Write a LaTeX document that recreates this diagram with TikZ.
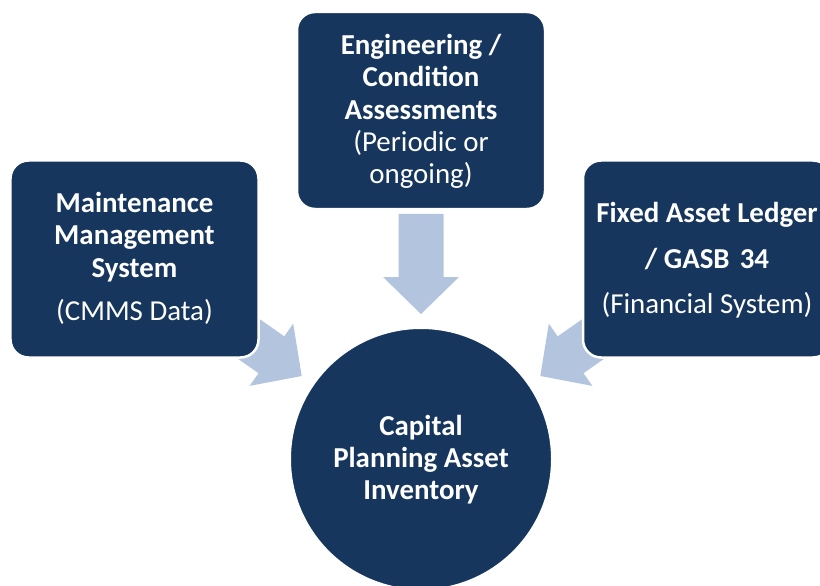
\documentclass[tikz,border=0pt]{standalone}
\usepackage{fontspec}
\setmainfont{Carlito}
\definecolor{navy}{RGB}{23,54,93}
\definecolor{lightarrow}{RGB}{179,196,222}
\tikzset{
  srcbox/.style={draw=white, line width=2.5bp, fill=navy, rounded corners=18bp,
    minimum width=248bp, minimum height=197bp, inner sep=0pt},
  hub/.style={circle, draw=white, line width=2bp, fill=navy, minimum size=262bp, inner sep=0pt},
  bline/.style={text=white, font=\fontsize{29}{32}\selectfont\bfseries, anchor=base, inner sep=0pt},
  nline/.style={text=white, font=\fontsize{29}{32}\selectfont, anchor=base, inner sep=0pt},
  inarrow/.pic={\fill[lightarrow] (-100,-22.5) -- (-37,-22.5) -- (-37,-38) -- (0,0)
     -- (-37,38) -- (-37,22.5) -- (-100,22.5) -- cycle;}
}
\begin{document}
\begin{tikzpicture}[x=1bp,y=-1bp]
\useasboundingbox (0,0) rectangle (820,586);
% block arrows (behind the boxes)
\coordinate (tipL) at (301.7,376);
\coordinate (tipT) at (421,314);
\coordinate (tipR) at (540.3,376);
\pic[rotate=-35] at (tipL) {inarrow};
\pic[rotate=-90] at (tipT) {inarrow};
\pic[rotate=-145] at (tipR) {inarrow};
% boxes
\node[srcbox] (mms) at (134.5,259) {};
\node[srcbox] (eng) at (421,110.5) {};
\node[srcbox] (fal) at (707,259) {};
\node[hub] (cap) at (421,459) {};
% left box text
\node[bline] (mms1) at (134.5,212.7) {Maintenance};
\node[bline] (mms2) at (134.5,245) {Management};
\node[bline] (mms3) at (134.5,277.5) {System};
\node[nline] (mms4) at (134.5,320) {(CMMS Data)};
% top box text
\node[bline] (eng1) at (421,55) {Engineering /};
\node[bline] (eng2) at (421,87) {Condition};
\node[bline] (eng3) at (421,119.3) {Assessments};
\node[nline] (eng4) at (421,151.7) {(Periodic or};
\node[nline] (eng5) at (421,183.5) {ongoing)};
% right box text
\node[bline] (fal1) at (707,222.7) {Fixed Asset Ledger};
\node[bline] (fal2) at (707,268.3) {/ GASB\hspace{0.35em}34};
\node[nline] (fal3) at (707,313.3) {(Financial System)};
% circle text
\node[bline] (cap1) at (421,435) {Capital};
\node[bline] (cap2) at (421,467) {Planning Asset};
\node[bline] (cap3) at (421,499) {Inventory};
\end{tikzpicture}
\end{document}
